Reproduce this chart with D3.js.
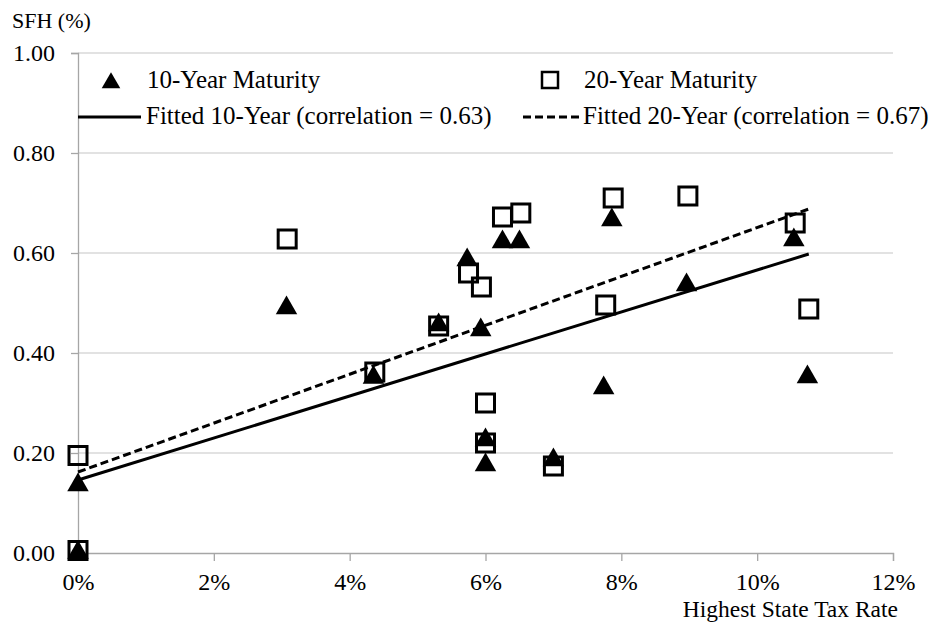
<!DOCTYPE html>
<html>
<head>
<meta charset="utf-8">
<script src="https://cdn.jsdelivr.net/npm/d3@7"></script>
<style>
  body { margin: 0; background: #fff; }
</style>
</head>
<body>
<div id="chart"></div>
<script>
// data (x = highest state tax rate in %, y = SFH)
const tax10 = [0, 0, 3.07, 4.35, 5.31, 5.73, 5.93, 6.0, 6.0, 6.25, 6.5, 7.0, 7.74, 7.86, 8.96, 10.54, 10.74];
const sfh10 = [0.14, 0.005, 0.494, 0.355, 0.46, 0.59, 0.45, 0.23, 0.18, 0.626, 0.626, 0.19, 0.334, 0.67, 0.54, 0.63, 0.356];
const tax20 = [0, 0, 3.08, 4.37, 5.31, 5.75, 5.94, 6.0, 6.0, 6.25, 6.52, 7.0, 7.77, 7.88, 8.98, 10.56, 10.76];
const sfh20 = [0.195, 0.005, 0.628, 0.362, 0.454, 0.56, 0.532, 0.30, 0.22, 0.672, 0.68, 0.174, 0.496, 0.71, 0.714, 0.66, 0.488];
// fitted lines: [x, y] at both ends
const fit10 = [[0, 0.146], [10.76, 0.598]];
const fit20 = [[0, 0.162], [10.76, 0.688]];
const xTicks = [0, 2, 4, 6, 8, 10, 12];
const yTicks = [0, 0.2, 0.4, 0.6, 0.8, 1.0];
const legendLabels = ["10-Year Maturity", "20-Year Maturity",
  "Fitted 10-Year (correlation = 0.63)", "Fitted 20-Year (correlation = 0.67)"];

const FONT = '"Liberation Serif", "Times New Roman", serif';
const W = 937, H = 624;
const m = {left: 78, right: 44, top: 53, bottom: 71};

const svg = d3.select("#chart").append("svg")
  .attr("width", W).attr("height", H)
  .style("font-family", FONT);

const x = d3.scaleLinear().domain([0, 12]).range([m.left, W - m.right]);
const y = d3.scaleLinear().domain([0, 1]).range([H - m.bottom, m.top]);

// gridlines
svg.append("g")
  .selectAll("line")
  .data(yTicks.filter(d => d > 0))
  .enter().append("line")
  .attr("x1", x(0)).attr("x2", x(12))
  .attr("y1", d => y(d)).attr("y2", d => y(d))
  .attr("stroke", "#d9d9d9").attr("stroke-width", 1.3);

// y axis
const yAx = svg.append("g")
  .attr("transform", `translate(${x(0)},0)`)
  .call(d3.axisLeft(y).tickValues(yTicks).tickFormat(d3.format(".2f")).tickSize(7).tickPadding(16));
yAx.attr("font-family", null).attr("font-size", null);
yAx.select(".domain").attr("stroke", "#a6a6a6").attr("stroke-width", 1.3);
yAx.selectAll(".tick line").attr("stroke", "#a6a6a6").attr("stroke-width", 1.3);
yAx.selectAll(".tick text").style("font-family", FONT).style("font-size", "24px").attr("fill", "#000");

// x axis
const xAx = svg.append("g")
  .attr("transform", `translate(0,${y(0)})`)
  .call(d3.axisBottom(x).tickValues(xTicks).tickFormat(d => d + "%").tickSize(8).tickPadding(12));
xAx.attr("font-family", null).attr("font-size", null);
xAx.select(".domain").attr("stroke", "#a6a6a6").attr("stroke-width", 1.3);
xAx.selectAll(".tick line").attr("stroke", "#a6a6a6").attr("stroke-width", 1.3);
xAx.selectAll(".tick text").style("font-family", FONT).style("font-size", "24px").attr("fill", "#000");

// axis titles
svg.append("text")
  .attr("x", 12).attr("y", 28)
  .style("font-family", FONT).style("font-size", "22px")
  .text("SFH (%)");
svg.append("text")
  .attr("x", 898).attr("y", 617)
  .attr("text-anchor", "end")
  .style("font-family", FONT).style("font-size", "23.5px")
  .text("Highest State Tax Rate");

// fitted lines
const line = d3.line().x(d => x(d[0])).y(d => y(d[1]));
svg.append("path").datum(fit10)
  .attr("d", line).attr("fill", "none")
  .attr("stroke", "#000").attr("stroke-width", 3);
svg.append("path").datum(fit20)
  .attr("d", line).attr("fill", "none")
  .attr("stroke", "#000").attr("stroke-width", 3)
  .attr("stroke-dasharray", "8,4");

// markers
const tri = d3.symbol(d3.symbolTriangle, 200);
const sq = 18;
svg.append("g").selectAll("path")
  .data(d3.zip(tax10, sfh10))
  .enter().append("path")
  .attr("d", tri)
  .attr("transform", d => `translate(${x(d[0])},${y(d[1]) + 2})`)
  .attr("fill", "#000");
svg.append("g").selectAll("rect")
  .data(d3.zip(tax20, sfh20))
  .enter().append("rect")
  .attr("x", d => x(d[0]) - sq / 2)
  .attr("y", d => y(d[1]) - sq / 2)
  .attr("width", sq).attr("height", sq)
  .attr("fill", "none")
  .attr("stroke", "#000").attr("stroke-width", 3);

// legend
const lg = svg.append("g").style("font-family", FONT).style("font-size", "25px");
lg.append("path").attr("d", d3.symbol(d3.symbolTriangle, 150))
  .attr("transform", "translate(111,83)").attr("fill", "#000");
lg.append("text").attr("x", 147).attr("y", 88).text(legendLabels[0]);
lg.append("rect").attr("x", 542).attr("y", 72).attr("width", 16).attr("height", 16)
  .attr("fill", "none").attr("stroke", "#000").attr("stroke-width", 2.5);
lg.append("text").attr("x", 584).attr("y", 88).text(legendLabels[1]);
lg.append("line").attr("x1", 78).attr("x2", 141).attr("y1", 117).attr("y2", 117)
  .attr("stroke", "#000").attr("stroke-width", 3);
lg.append("text").attr("x", 146).attr("y", 124).text(legendLabels[2]);
lg.append("line").attr("x1", 523).attr("x2", 581).attr("y1", 117).attr("y2", 117)
  .attr("stroke", "#000").attr("stroke-width", 3)
  .attr("stroke-dasharray", "8,4");
lg.append("text").attr("x", 583).attr("y", 124).text(legendLabels[3]);
</script>
</body>
</html>
